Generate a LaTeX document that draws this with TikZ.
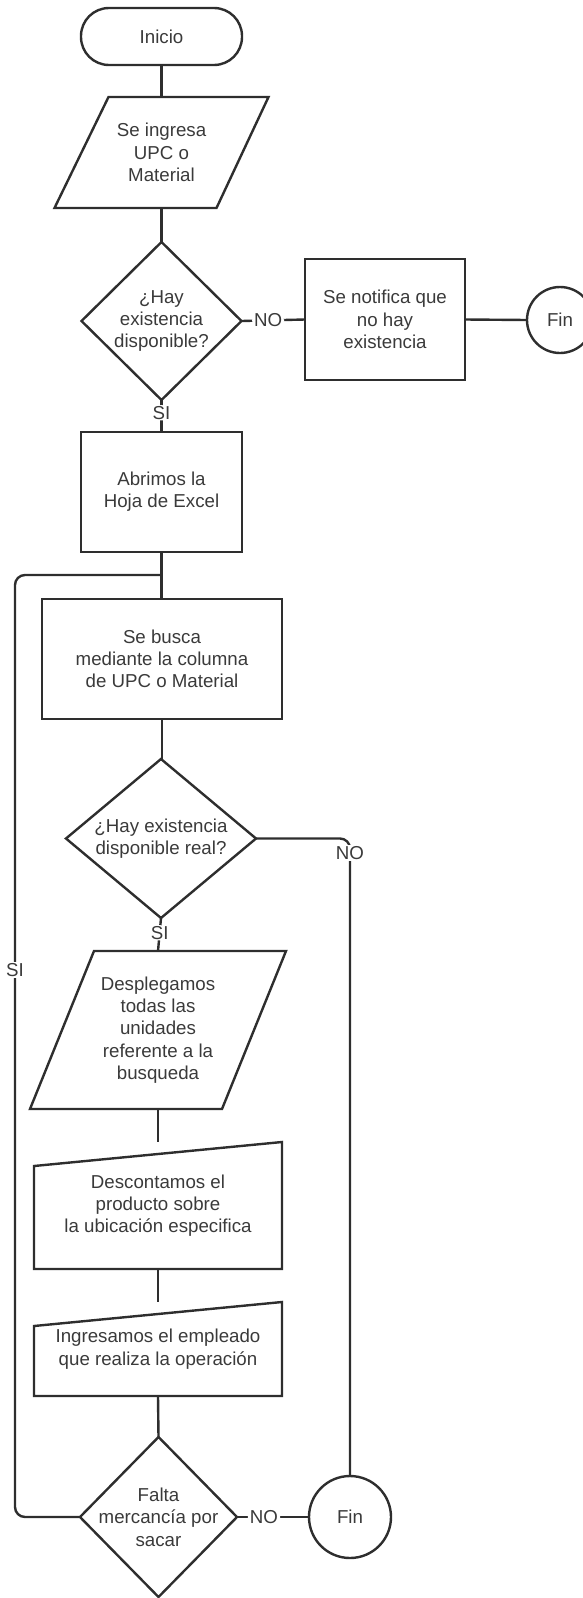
\documentclass[tikz,border=0pt]{standalone}
\usepackage{fontspec}
\setmainfont{Liberation Sans}
\usetikzlibrary{calc}
\definecolor{ink}{HTML}{2E2E2E}
\definecolor{txt}{HTML}{3A3A3A}
\begin{document}
\begin{tikzpicture}[x=1pt,y=-1pt,line width=2.4pt,
  frm/.style={rectangle,inner sep=0pt,outer sep=0pt,text=txt,
    font=\fontsize{18.7}{22.3}\selectfont,align=center},
  boxed/.style={frm,draw=ink},
  outline/.style={draw=ink,line join=miter},
  endpt/.style={frm,circle,draw=ink},
  conn/.style={draw=ink,rounded corners=10pt},
  elbl/.style={fill=white,text=txt,inner xsep=2pt,inner ysep=1pt,
    font=\fontsize{18.7}{22.3}\selectfont}]
\useasboundingbox (0,0) rectangle (583,1598);

% --- main column, upper part ---
\node[boxed,rounded corners=28pt,minimum width=161pt,minimum height=57pt] (inicio) at (161.5,36.5) {Inicio};
\node[frm,minimum width=214pt,minimum height=111pt] (p1) at (161.5,152.5) {Se ingresa\\UPC o\\Material};
\draw[outline] ($(p1.north west)+(54,0)$) -- (p1.north east) -- ($(p1.south east)+(-52,0)$) -- (p1.south west) -- cycle;

\node[frm,minimum width=160pt,minimum height=158pt] (d1) at (161.5,321) {¿Hay\\existencia\\disponible?};
\draw[outline] (d1.north) -- (d1.east) -- (d1.south) -- (d1.west) -- cycle;

\node[boxed,minimum width=160pt,minimum height=121pt] (notif) at (385,319.5) {Se notifica que\\no hay\\existencia};
\node[endpt,minimum size=66pt] (fin1) at (560,320) {Fin};

\node[boxed,minimum width=161pt,minimum height=120pt] (abre) at (161.5,492) {Abrimos la\\Hoja de Excel};
\node[boxed,minimum width=240pt,minimum height=120pt] (busca) at (162,659) {Se busca\\mediante la columna\\de UPC o Material};

\node[frm,minimum width=190pt,minimum height=159pt] (d2) at (161,838.5) {¿Hay existencia\\disponible real?};
\draw[outline] (d2.north) -- (d2.east) -- (d2.south) -- (d2.west) -- cycle;

% --- main column, lower part ---
\node[frm,minimum width=256pt,minimum height=158pt] (p2) at (158,1030) {Desplegamos\\todas las\\unidades\\referente a la\\busqueda};
\draw[outline] ($(p2.north west)+(64,0)$) -- (p2.north east) -- ($(p2.south east)+(-64,0)$) -- (p2.south west) -- cycle;

\node[frm,minimum width=248pt,minimum height=127pt] (m1) at (158,1205.5) {Descontamos el\\producto sobre\\la ubicación especifica};
\draw[outline] ($(m1.north west)+(0,24)$) -- (m1.north east) -- (m1.south east) -- (m1.south west) -- cycle;

\node[frm,minimum width=248pt,minimum height=94pt] (m2) at (158,1349) {Ingresamos el empleado\\que realiza la operación};
\draw[outline] ($(m2.north west)+(0,24)$) -- (m2.north east) -- (m2.south east) -- (m2.south west) -- cycle;

\node[frm,minimum width=157pt,minimum height=160pt] (d3) at (158.5,1517) {Falta\\mercancía por\\sacar};
\draw[outline] (d3.north) -- (d3.east) -- (d3.south) -- (d3.west) -- cycle;

\node[endpt,minimum size=82pt] (fin2) at (350,1517) {Fin};

% --- connectors ---
\coordinate (j) at (161.5,575);
\coordinate (lc) at (15,575);

\draw[conn] (inicio.south) -- (p1.north);
\draw[conn] (p1.south) -- (d1.north);
\draw[conn] (d1.east) -- node[elbl,pos=0.42] {NO} (notif.west);
\draw[conn] (notif.east) -- (fin1.west);
\draw[conn] (d1.south) -- node[elbl,pos=0.4] {SI} (abre.north);
\draw[conn] (abre.south) -- (abre.south |- busca.north);
\draw[conn] (busca.south) -- (busca.south |- d2.north);
\draw[conn] (d2.east) -| (fin2.north);
\node[elbl] (no2) at (350,853) {NO};
\draw[conn] (d2.south) -- node[elbl,pos=0.45] {SI} (p2.north);
\draw[conn] (p2.south) -- (m1.north);
\draw[conn] (m1.south) -- (m2.north);
\draw[conn] (m2.south) -- (d3.north);
\draw[conn] (d3.east) -- node[elbl,pos=0.375] {NO} (fin2.west);
\draw[conn] (d3.west) -| (lc) -- (j);
\node[elbl] (si3) at (15,970) {SI};
\end{tikzpicture}
\end{document}
